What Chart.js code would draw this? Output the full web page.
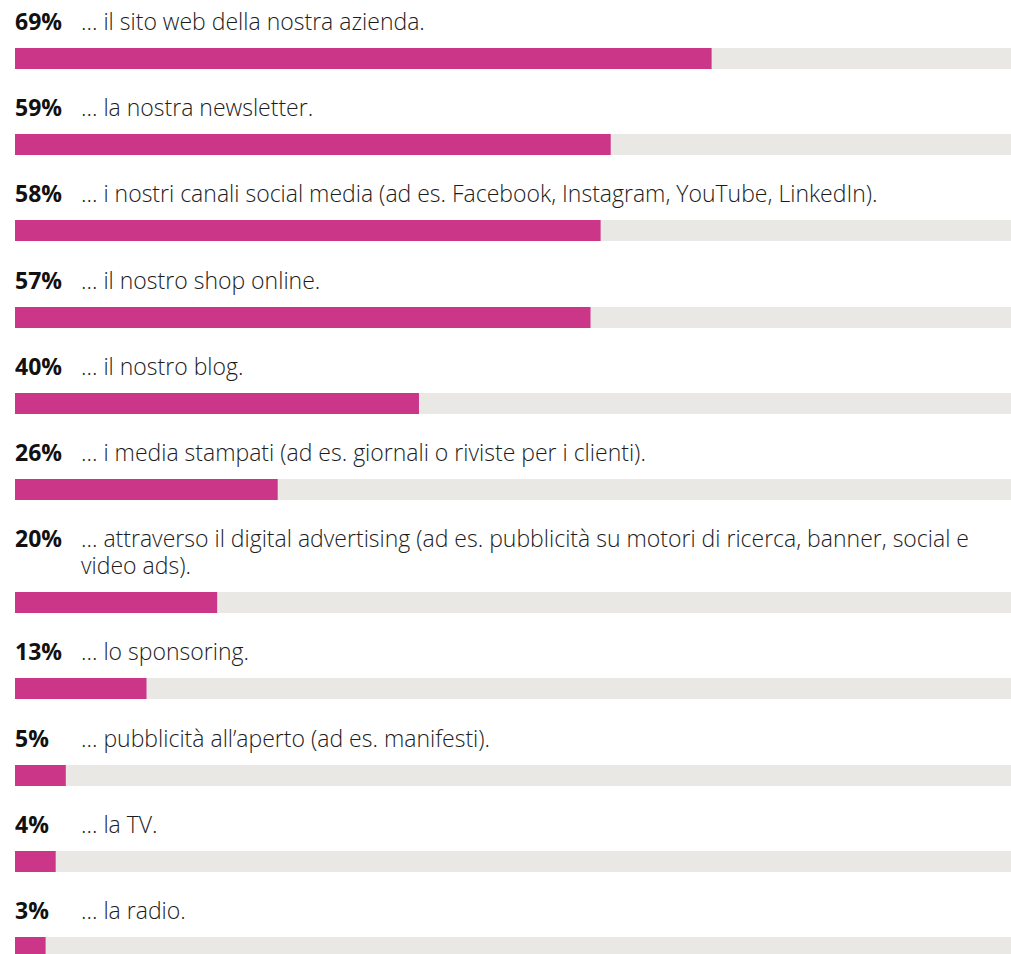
<!DOCTYPE html>
<html lang="it">
<head>
<meta charset="utf-8">
<title>Canali di comunicazione</title>
<script src="https://cdn.jsdelivr.net/npm/chart.js@4.4.1/dist/chart.umd.min.js"></script>
<style>
  body {
    margin: 0;
    background: #fff;
    font-family: "Open Sans", "Noto Sans", sans-serif;
    color: #1c1c1c;
  }
  #lista {
    padding: 8px 0 0 15px;
    width: 996px;
  }
  .riga { margin-bottom: 25.2px; }
  .testo {
    display: flex;
    align-items: baseline;
    font-size: 23px;
    line-height: 27px;
    margin-bottom: 13px;
  }
  .perc {
    flex: none;
    width: 66px;
    font-weight: 700;
    color: #111;
  }
  .descr { flex: 1; font-weight: 300; }
  canvas { display: block; }
</style>
</head>
<body>
<div id="lista"></div>

<script>
// Dati
const valori = [69, 59, 58, 57, 40, 26, 20, 13, 5, 4, 3];
const etichette = [
  "... il sito web della nostra azienda.",
  "... la nostra newsletter.",
  "... i nostri canali social media (ad es. Facebook, Instagram, YouTube, LinkedIn).",
  "... il nostro shop online.",
  "... il nostro blog.",
  "... i media stampati (ad es. giornali o riviste per i clienti).",
  "... attraverso il digital advertising (ad es. pubblicità su motori di ricerca, banner, social e video ads).",
  "... lo sponsoring.",
  "... pubblicità all’aperto (ad es. manifesti).",
  "... la TV.",
  "... la radio."
];

// Colori e scala
const coloreBarra = '#cb3689';
const coloreTraccia = '#e9e8e4';
const scalaMax = 98.7;

// Sfondo grigio dietro ogni barra
const sfondoTraccia = {
  id: 'sfondoTraccia',
  beforeDatasetsDraw(chart) {
    const { ctx, chartArea } = chart;
    ctx.save();
    ctx.fillStyle = coloreTraccia;
    ctx.fillRect(chartArea.left, chartArea.top, chartArea.width, chartArea.height);
    ctx.restore();
  }
};

const lista = document.getElementById('lista');

function creaRiga(valore, testo) {
  const riga = document.createElement('div');
  riga.className = 'riga';
  riga.innerHTML = `
    <div class="testo">
      <span class="perc">${valore}%</span>
      <span class="descr">${testo}</span>
    </div>
    <canvas width="996" height="21"></canvas>
  `;
  lista.appendChild(riga);

  new Chart(riga.querySelector('canvas'), {
    type: 'bar',
    data: {
      labels: [testo],
      datasets: [{
        data: [valore],
        backgroundColor: coloreBarra,
        borderWidth: 0,
        barPercentage: 1,
        categoryPercentage: 1
      }]
    },
    options: {
      indexAxis: 'y',
      responsive: false,
      animation: false,
      layout: { padding: 0 },
      scales: {
        x: { display: false, min: 0, max: scalaMax },
        y: { display: false }
      },
      plugins: {
        legend: { display: false },
        tooltip: { enabled: false }
      }
    },
    plugins: [sfondoTraccia]
  });
}

valori.forEach((v, i) => creaRiga(v, etichette[i]));
</script>
</body>
</html>
